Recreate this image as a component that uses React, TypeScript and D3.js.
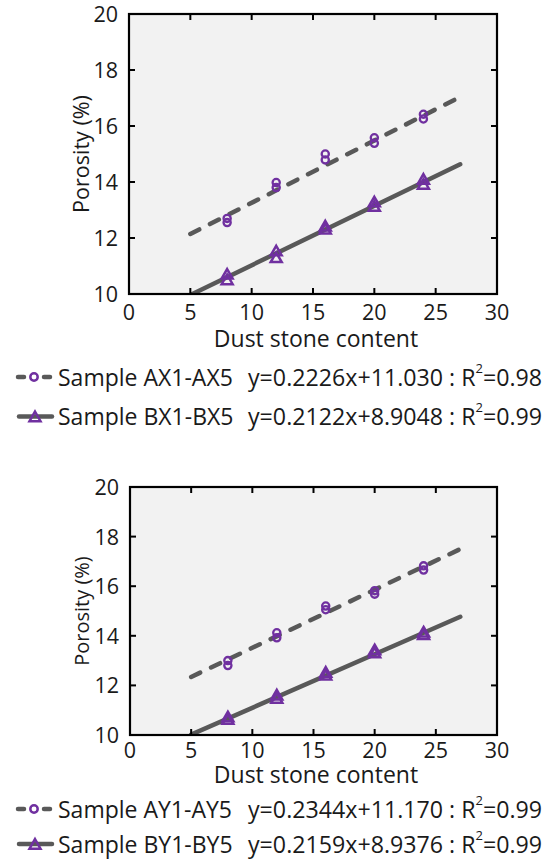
import React from "react";
import * as d3 from "d3";

const xTicks = [0, 5, 10, 15, 20, 25, 30];
const yTicks = [10, 12, 14, 16, 18, 20];
const dustContent = [8, 12, 16, 20, 24];

// Chart 1
const ax1 = [12.7, 13.98, 15.0, 15.58, 16.42];
const ax2 = [12.55, 13.8, 14.79, 15.38, 16.25];
const bx1 = [10.68, 11.51, 12.4, 13.26, 14.07];
const bx2 = [10.48, 11.27, 12.29, 13.1, 13.89];
// Chart 2
const ay1 = [13.0, 14.12, 15.2, 15.82, 16.82];
const ay2 = [12.8, 13.92, 15.05, 15.68, 16.65];
const by1 = [10.7, 11.58, 12.5, 13.4, 14.12];
const by2 = [10.6, 11.45, 12.38, 13.28, 14.02];

const fitA1 = { slope: 0.2226, icpt: 11.03 };
const fitB1 = { slope: 0.2122, icpt: 8.9048 };
const fitA2 = { slope: 0.2344, icpt: 11.17 };
const fitB2 = { slope: 0.2159, icpt: 8.9376 };
const fitRange = [5, 27];

const legend1 = [
  { name: "Sample AX1-AX5", eq: "y=0.2226x+11.030 : R", r2: "=0.98" },
  { name: "Sample BX1-BX5", eq: "y=0.2122x+8.9048 : R", r2: "=0.99" },
];
const legend2 = [
  { name: "Sample AY1-AY5", eq: "y=0.2344x+11.170 : R", r2: "=0.99" },
  { name: "Sample BY1-BY5", eq: "y=0.2159x+8.9376 : R", r2: "=0.99" },
];

const FONT = "'Open Sans', 'Noto Sans', sans-serif";
const PURPLE = "#7030a0";
const GREY = "#595959";
const TXT = "#1a1a1a";

function Tri({ cx, cy, s }: { cx: number; cy: number; s: number }) {
  const h = s * 0.87;
  return (
    <path
      d={`M${cx},${cy - h * 0.62} L${cx + s / 2},${cy + h * 0.38} L${cx - s / 2},${cy + h * 0.38} Z`}
      fill="none"
      stroke={PURPLE}
      strokeWidth={2.5}
    />
  );
}

function Chart({ top, bottom, left, a1, a2, b1, b2, fa, fb, id, xLabOff, titleOff, yTitleSize }: any) {
  const right = 497;
  const x = d3.scaleLinear().domain([0, 30]).range([left, right]);
  const y = d3.scaleLinear().domain([10, 20]).range([bottom, top]);
  const fitPath = (f: any) =>
    d3
      .line<number>()
      .x((d) => x(d))
      .y((d) => y(f.slope * d + f.icpt))(fitRange as number[]) as string;
  const tl = 6;
  return (
    <g>
      <defs>
        <clipPath id={id}>
          <rect x={left} y={top} width={right - left} height={bottom - top} />
        </clipPath>
      </defs>
      <rect x={left} y={top} width={right - left} height={bottom - top} fill="#f2f2f2" />
      <g clipPath={`url(#${id})`}>
        <path d={fitPath(fa)} stroke={GREY} strokeWidth={4.5} fill="none" strokeDasharray="10 12" strokeLinecap="round" />
        <path d={fitPath(fb)} stroke={GREY} strokeWidth={4.5} fill="none" strokeLinecap="round" />
      </g>
      {dustContent.map((d, i) => (
        <g key={"a" + i}>
          <circle cx={x(d)} cy={y(a1[i])} r={3.6} fill="none" stroke={PURPLE} strokeWidth={2.3} />
          <circle cx={x(d)} cy={y(a2[i])} r={3.6} fill="none" stroke={PURPLE} strokeWidth={2.3} />
        </g>
      ))}
      {dustContent.map((d, i) => (
        <g key={"b" + i}>
          <Tri cx={x(d)} cy={y(b1[i])} s={11} />
          <Tri cx={x(d)} cy={y(b2[i])} s={11} />
        </g>
      ))}
      {xTicks.slice(1, -1).map((t) => (
        <g key={"xt" + t}>
          <line x1={x(t)} x2={x(t)} y1={bottom} y2={bottom - tl} stroke="#000" strokeWidth={2} />
          <line x1={x(t)} x2={x(t)} y1={top} y2={top + tl} stroke="#000" strokeWidth={2} />
        </g>
      ))}
      {yTicks.slice(1, -1).map((t) => (
        <g key={"yt" + t}>
          <line x1={left} x2={left + tl} y1={y(t)} y2={y(t)} stroke="#000" strokeWidth={2} />
          <line x1={right} x2={right - tl} y1={y(t)} y2={y(t)} stroke="#000" strokeWidth={2} />
        </g>
      ))}
      <rect x={left} y={top} width={right - left} height={bottom - top} fill="none" stroke="#000" strokeWidth={2.2} />
      {xTicks.map((t) => (
        <text key={"xl" + t} x={x(t)} y={bottom + xLabOff} textAnchor="middle" fontSize={21.5} fontFamily={FONT} fill={TXT}>
          {t}
        </text>
      ))}
      {yTicks.map((t) => (
        <text key={"yl" + t} x={left - 11} y={y(t) + 8} textAnchor="end" fontSize={21.5} fontFamily={FONT} fill={TXT}>
          {t}
        </text>
      ))}
      <text x={316} y={bottom + titleOff} textAnchor="middle" fontSize={23} fontFamily={FONT} fill={TXT}>
        Dust stone content
      </text>
      <text
        transform={`translate(${89},${(top + bottom) / 2}) rotate(-90)`}
        textAnchor="middle"
        fontSize={yTitleSize}
        fontFamily={FONT}
        fill={TXT}
      >
        Porosity (%)
      </text>
    </g>
  );
}

function Legend({ items, ys }: { items: any[]; ys: number[] }) {
  return (
    <g>
      {items.map((it, i) => {
        const cy = ys[i];
        return (
          <g key={i}>
            {i === 0 ? (
              <g>
                <line x1={18} x2={24} y1={cy} y2={cy} stroke={GREY} strokeWidth={4.5} strokeLinecap="round" />
                <line x1={44} x2={50} y1={cy} y2={cy} stroke={GREY} strokeWidth={4.5} strokeLinecap="round" />
                <circle cx={34} cy={cy} r={3.7} fill="none" stroke={PURPLE} strokeWidth={2.5} />
              </g>
            ) : (
              <g>
                <line x1={19} x2={52} y1={cy} y2={cy} stroke={GREY} strokeWidth={4.5} strokeLinecap="round" />
                <Tri cx={35} cy={cy + 1} s={11} />
              </g>
            )}
            <text x={58} y={cy + 8.5} fontSize={23} fontFamily={FONT} fill={TXT}>
              {it.name}
            </text>
            <text x={248} y={cy + 8.5} fontSize={23.2} fontFamily={FONT} fill={TXT}>
              {it.eq}
              <tspan dy={-13} fontSize={13}>2</tspan>
              <tspan dy={13}>{it.r2}</tspan>
            </text>
          </g>
        );
      })}
    </g>
  );
}

export default function App() {
  return (
    <svg width={555} height={860} style={{ position: "absolute", left: 0, top: 0, background: "#fff" }}>
      <Chart top={14} bottom={294} left={129} a1={ax1} a2={ax2} b1={bx1} b2={bx2} fa={fitA1} fb={fitB1} id="c1" xLabOff={26} titleOff={53} yTitleSize={21.5} />
      <Legend items={legend1} ys={[377, 416.5]} />
      <Chart top={487} bottom={735} left={130} a1={ay1} a2={ay2} b1={by1} b2={by2} fa={fitA2} fb={fitB2} id="c2" xLabOff={23} titleOff={48} yTitleSize={20} />
      <Legend items={legend2} ys={[809, 844]} />
    </svg>
  );
}
